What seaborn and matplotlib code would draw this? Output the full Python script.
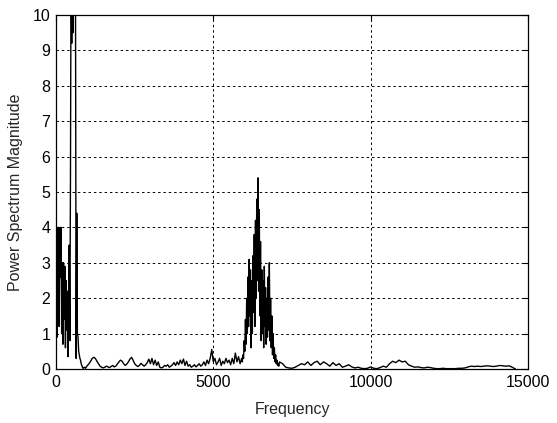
import numpy as np
import pandas as pd
import matplotlib
matplotlib.use("Agg")
import matplotlib.pyplot as plt
import seaborn as sns

# ---- data: power spectrum magnitude ----
# segment 1: 0..1000 Hz, bins every 20 Hz
seg1_start, seg1_step = 0, 20
seg1_mag = [0.3, 2.1, 0.9, 4.0, 4.0, 1.2, 4.0, 2.6, 4.0, 1.0,
            3.0, 0.7, 3.0, 1.4, 2.9, 0.6, 2.5, 1.1, 2.2, 0.35,
            1.6, 3.5, 0.8, 5.5, 12.0, 9.2, 14.0, 9.5, 15.0, 11.0,
            13.0, 10.5, 0.3, 4.4, 1.0, 0.9, 0.5, 0.4, 0.3, 0.25,
            0.15, 0.1, 0.05, 0.02, 0.03, 0.05, 0.04, 0.02, 0.05, 0.08,
            0.1]
# segment 2: 1050..5900 Hz, bins every 50 Hz
seg2_start, seg2_step = 1050, 50
seg2_mag = [0.15, 0.22, 0.3, 0.33, 0.3, 0.22, 0.15, 0.08, 0.05, 0.03,
            0.05, 0.08, 0.06, 0.04, 0.07, 0.1, 0.06, 0.08, 0.14, 0.2,
            0.25, 0.22, 0.15, 0.1, 0.14, 0.2, 0.28, 0.33, 0.25, 0.15,
            0.1, 0.07, 0.1, 0.16, 0.12, 0.08, 0.12, 0.18, 0.28, 0.15,
            0.3, 0.12, 0.25, 0.1, 0.2, 0.05, 0.03, 0.05, 0.1, 0.08,
            0.12, 0.05, 0.08, 0.12, 0.18, 0.1, 0.2, 0.12, 0.25, 0.15,
            0.28, 0.1, 0.22, 0.08, 0.12, 0.05, 0.08, 0.12, 0.06, 0.1,
            0.15, 0.08, 0.12, 0.2, 0.1, 0.25, 0.15, 0.3, 0.55, 0.2,
            0.3, 0.12, 0.2, 0.3, 0.1, 0.22, 0.15, 0.3, 0.18, 0.25,
            0.12, 0.3, 0.15, 0.45, 0.2, 0.35, 0.15, 0.3]
# segment 3: 5920..7080 Hz, bins every 20 Hz
seg3_start, seg3_step = 5920, 20
seg3_mag = [0.2, 0.4, 0.3, 0.8, 0.5, 1.4, 0.7, 2.0, 1.0, 2.6,
            1.2, 3.1, 1.5, 2.8, 0.6, 2.5, 1.0, 3.2, 1.6, 3.8,
            1.2, 4.2, 2.0, 4.8, 2.5, 5.4, 2.2, 4.5, 1.5, 3.6,
            0.8, 2.8, 1.0, 2.5, 0.6, 2.9, 1.2, 2.3, 0.7, 2.0,
            0.9, 2.6, 1.1, 3.0, 0.8, 2.0, 0.6, 1.5, 0.4, 1.0,
            0.3, 0.6, 0.2, 0.4, 0.15, 0.25, 0.1, 0.15, 0.08]
# segment 4: 7100..14600 Hz, bins every 100 Hz
seg4_start, seg4_step = 7100, 100
seg4_mag = [0.2, 0.15, 0.05, 0.03, 0.02, 0.05, 0.1, 0.15, 0.12, 0.2,
            0.1, 0.18, 0.22, 0.12, 0.2, 0.15, 0.08, 0.18, 0.1, 0.15,
            0.05, 0.08, 0.12, 0.06, 0.03, 0.05, 0.02, 0.01, 0.02, 0.06,
            0.02, 0.01, 0.04, 0.08, 0.05, 0.15, 0.22, 0.18, 0.25, 0.2,
            0.22, 0.12, 0.08, 0.05, 0.06, 0.04, 0.03, 0.05, 0.04, 0.02,
            0.01, 0.01, 0.02, 0.01, 0.01, 0.01, 0.01, 0.02, 0.02, 0.03,
            0.06, 0.08, 0.07, 0.08, 0.07, 0.08, 0.09, 0.08, 0.07, 0.08,
            0.1, 0.09, 0.08, 0.09, 0.05, 0.0]

x_ticks = [0, 5000, 10000, 15000]
y_ticks = list(range(0, 11))

segments = [(seg1_start, seg1_step, seg1_mag), (seg2_start, seg2_step, seg2_mag),
            (seg3_start, seg3_step, seg3_mag), (seg4_start, seg4_step, seg4_mag)]
freq, mag = [], []
for s, d, m in segments:
    freq += [s + i * d for i in range(len(m))]
    mag += m
df = pd.DataFrame({"Frequency": freq, "Magnitude": mag})

# ---- plot ----
sns.set_style("white")
plt.rcParams["font.family"] = ["Liberation Sans", "DejaVu Sans"]

fig = plt.figure(figsize=(5.57, 4.23), dpi=100)
fig.subplots_adjust(left=56/557, right=528/557, bottom=1-369/423, top=1-15/423)
ax = fig.add_subplot(111)

sns.lineplot(data=df, x="Frequency", y="Magnitude", ax=ax, color="black",
             linewidth=1.0, estimator=None, sort=False)

ax.set_xlim(0, 15000)
ax.set_ylim(0, 10)
ax.set_xticks(x_ticks)
ax.set_yticks(y_ticks)
ax.set_xticklabels([str(t) for t in x_ticks])
ax.set_yticklabels([str(t) for t in y_ticks])
ax.grid(True, color="black", linestyle=(0, (2.5, 3)), linewidth=0.7)
ax.tick_params(direction="in", length=4, width=0.8, top=True, right=True,
               labelsize=11.5, colors="black", pad=4)
for sp in ax.spines.values():
    sp.set_color("black")
    sp.set_linewidth(0.9)
ax.set_xlabel("Frequency", fontsize=11.5, labelpad=9)
ax.set_ylabel("Power Spectrum Magnitude", fontsize=11.5, labelpad=7)

fig.savefig("out.png", dpi=100)
